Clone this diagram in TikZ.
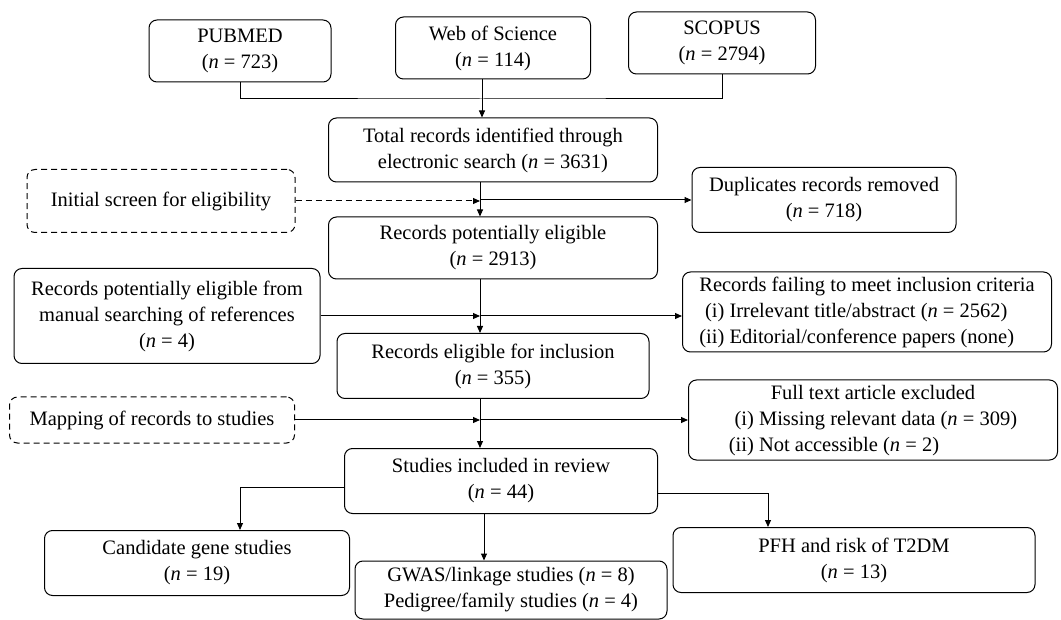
\documentclass[tikz,border=0pt]{standalone}
\usepackage{fontspec}
\setmainfont{Liberation Serif}
\usetikzlibrary{arrows.meta, positioning}

\tikzset{
  box/.style={draw, rounded corners=8pt, line width=1pt, align=center, inner sep=1pt},
  dbox/.style={box, dash pattern=on 6pt off 4pt},
  arr/.style={-{Triangle[length=7pt,width=6pt]}, line width=1pt},
  ln/.style={line width=1pt}
}
\newcommand{\nn}[1]{(\textit{n} = #1)}

\begin{document}
\begin{tikzpicture}[x=1pt,y=-1pt, font=\fontsize{20.5}{26}\selectfont]
\useasboundingbox (0,0) rectangle (1061,620);

% databases
\node[box, minimum width=182pt, minimum height=62pt] (pubmed) at (240,51) {PUBMED\\\nn{723}};
\node[box, minimum width=195pt, minimum height=62pt] (wos) at (493,48) {Web of Science\\\nn{114}};
\node[box, minimum width=187pt, minimum height=62pt] (scopus) at (722,43) {SCOPUS\\\nn{2794}};

% main flow
\node[box, minimum width=329pt, minimum height=64pt] (total) at (493,150) {Total records identified through\\electronic search \nn{3631}};
\node[box, minimum width=329pt, minimum height=62pt] (pot) at (493,248) {Records potentially eligible\\\nn{2913}};
\node[box, minimum width=312pt, minimum height=65pt] (elig) at (493,366) {Records eligible for inclusion\\\nn{355}};
\node[box, minimum width=313pt, minimum height=65pt] (studies) at (501,481) {Studies included in review\\\nn{44}};

% left side
\node[dbox, minimum width=268pt, minimum height=63pt] (init) at (161,201) {Initial screen for eligibility};
\node[box, minimum width=306pt, minimum height=95pt] (manual) at (167,316) {Records potentially eligible from\\manual searching of references\\\nn{4}};
\node[dbox, minimum width=285pt, minimum height=46pt] (map) at (152,420) {Mapping of records to studies};

% exclusions
\node[box, minimum width=264pt, minimum height=65pt] (dup) at (824,200) {Duplicates records removed\\\nn{718}};
\node[box, minimum width=369pt, minimum height=77pt] (fail) at (867,312) {\begin{tabular}{@{}r@{~}l@{}}\multicolumn{2}{@{}c@{}}{Records failing to meet inclusion criteria}\\(i) & Irrelevant title/abstract \nn{2562}\\(ii) & Editorial/conference papers (none)\end{tabular}};
\node[box, minimum width=369pt, minimum height=76pt] (full) at (873,420) {\begin{tabular}{@{}r@{~}l@{}}\multicolumn{2}{@{}c@{}}{Full text article excluded}\\(i) & Missing relevant data \nn{309}\\(ii) & Not accessible \nn{2}\end{tabular}};

% outcomes
\node[box, minimum width=305pt, minimum height=65pt] (cand) at (197,563) {Candidate gene studies\\\nn{19}};
\node[box, minimum width=312pt, minimum height=58pt] (gwas) at (511,590) {GWAS/linkage studies \nn{8}\\Pedigree/family studies \nn{4}};
\node[box, minimum width=362pt, minimum height=65pt] (pfh) at (854,560) {PFH and risk of T2DM\\\nn{13}};

% connectors
\coordinate (jn) at (482,99);
\coordinate (sp) at (480,0);
\coordinate (sp2) at (484,0);
\draw[ln] (pubmed.south) |- (jn) -| (scopus.south);
\draw[arr] (wos.south -| jn) -- (total.north -| jn);
\draw[arr] (total.south -| sp) -- (pot.north -| sp);
\draw[arr, dash pattern=on 6pt off 4pt] (init.east) -- (init.east -| sp);
\draw[arr] (sp |- dup.west) -- (dup.west);
\draw[arr] (pot.south -| sp) -- (elig.north -| sp);
\draw[arr] (manual.east) -- (manual.east -| sp);
\draw[arr] (manual.east -| sp) -- (fail.west |- manual.east);
\draw[arr] (elig.south -| sp) -- (studies.north -| sp);
\draw[arr] (map.east) -- (map.east -| sp);
\draw[arr] (map.east -| sp) -- (full.west |- map.east);
\draw[arr] ([yshift=-6pt]studies.west) -| ([xshift=43pt]cand.north);
\draw[arr] (studies.south -| sp2) -- (gwas.north -| sp2);
\draw[arr] ([yshift=-12pt]studies.east) -| ([xshift=-86pt]pfh.north);
\end{tikzpicture}
\end{document}
